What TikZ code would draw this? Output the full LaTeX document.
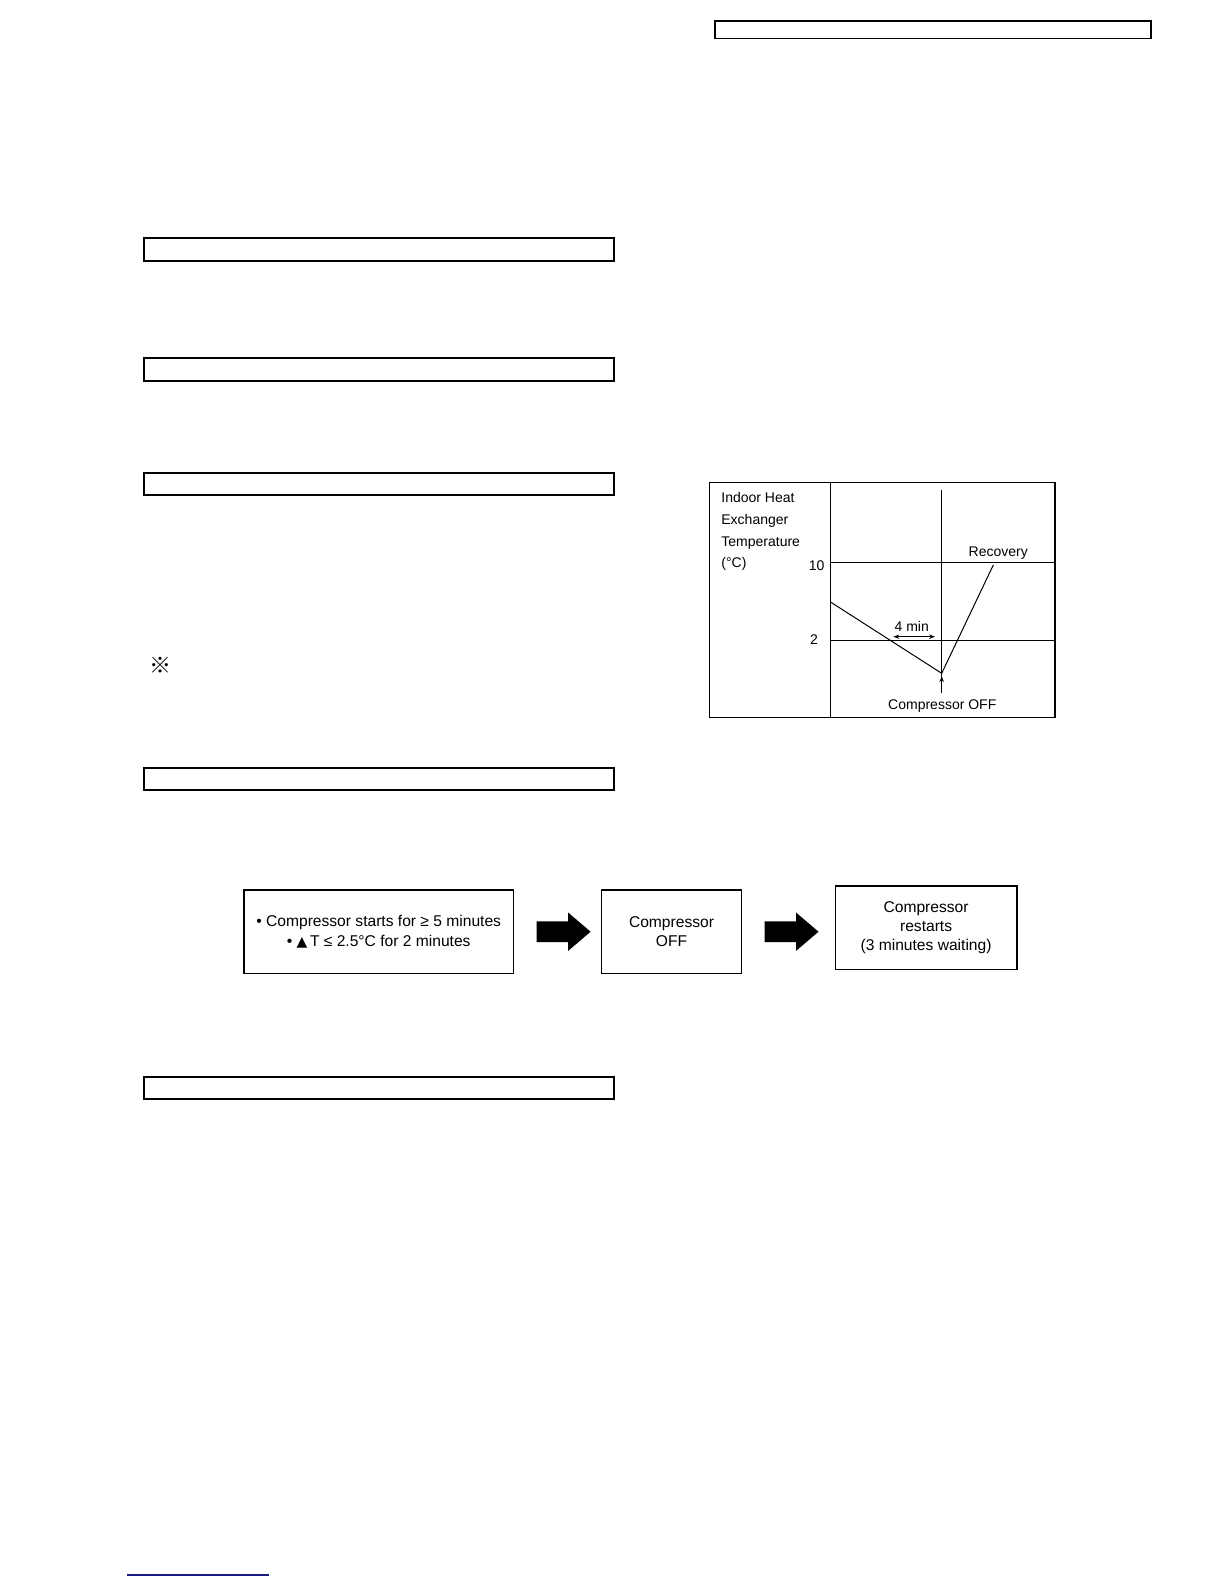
\documentclass[tikz,border=0pt]{standalone}
\usepackage{fontspec}
\setmainfont{Liberation Sans}
\newfontfamily\symfont{DejaVu Sans}
\newfontfamily\markfont{Noto Sans CJK JP}
\usetikzlibrary{arrows.meta,calc}
\definecolor{LinkBlue}{HTML}{1C1C80}

\begin{document}
\begin{tikzpicture}[x=0.5pt,y=-0.5pt,>=Stealth,
    sectionbar/.style={draw,line width=1pt},
    chartline/.style={line width=0.5pt},
    lbl/.style={inner sep=0pt,font=\fontsize{7}{10.8}\selectfont},
    flow/.style={draw,line width=0.7pt,minimum height=41.7pt,align=center,inner sep=0pt,font=\fontsize{7.8}{9.6}\selectfont}]
  \useasboundingbox (0,0) rectangle (1224,1584);
  \draw[line width=0.6pt] (715,21) rectangle (1151,38.3);
  \foreach \y in {238,358.3,472.8,767.6,1076.5}\draw[sectionbar] (144,\y) rectangle (614,\y+22.6);
  \node[inner sep=0pt,font=\markfont\fontsize{11}{11}\selectfont] (mark) at (160.5,665.5) {※};
  % chart
  \coordinate (top) at (941.7,490);
  \coordinate (foot) at (941.7,693);
  \coordinate (start) at (830,601.7);
  \coordinate (dip) at (941.7,673.3);
  \coordinate (rise) at (993.3,565);
  \draw[line width=0.65pt] (709.3,482.3) rectangle (1055,717.7);
  \draw[chartline] (830,482.3) -- (830,717.7);
  \draw[chartline] (830,562.7) -- (1055,562.7);
  \draw[chartline] (830,640.7) -- (1055,640.7);
  \draw[chartline] (top) -- (foot);
  \draw[chartline] (start) -- (dip) -- (rise);
  \draw[chartline,{Stealth[length=3pt,width=2.2pt]}-{Stealth[length=3pt,width=2.2pt]}] (893.3,636.7) -- (935,636.7);
  \draw[chartline,-{Stealth[length=3pt,width=2.2pt]}] (foot) -- (941.7,676);
  \node[lbl,anchor=north west,align=left] (ylab) at (721,492.3) {Indoor Heat\\Exchanger\\Temperature\\(°C)};
  \node[lbl,anchor=base] (ten) at (816.7,570) {10};
  \node[lbl,anchor=base] (two) at (814,644) {2};
  \node[lbl,anchor=base] (rec) at (998.3,556) {Recovery};
  \node[lbl,anchor=base] (gap) at (911.7,631.5) {4 min};
  \node[lbl,anchor=base] (off) at (942.3,709.5) {Compressor OFF};
  % flow
  \node[flow,minimum width=134.7pt] (cond) at (378.7,931.7) {• Compressor starts for ≥ 5 minutes\\• {\symfont\fontsize{7}{7}\selectfont ▲}\,T ≤ 2.5°C for 2 minutes};
  \node[flow,minimum width=69.8pt] (stop) at (671.5,931.7) {Compressor\\OFF};
  \node[flow,minimum width=90.9pt] (again) at (926.1,927.6) {Compressor\\restarts\\(3 minutes waiting)};
  \foreach \u/\v in {cond/stop,stop/again}
    \fill ($(\u.east)+(22.5,-10.3)$) -- ++(31.5,0) -- ++(0,-8.9) -- ++(22.5,19.2) -- ++(-22.5,19.2) -- ++(0,-8.9) -- ++(-31.5,0) -- cycle;
  \draw[LinkBlue,line width=0.6pt] (126.7,1575) -- (269.3,1575);
\end{tikzpicture}
\end{document}
